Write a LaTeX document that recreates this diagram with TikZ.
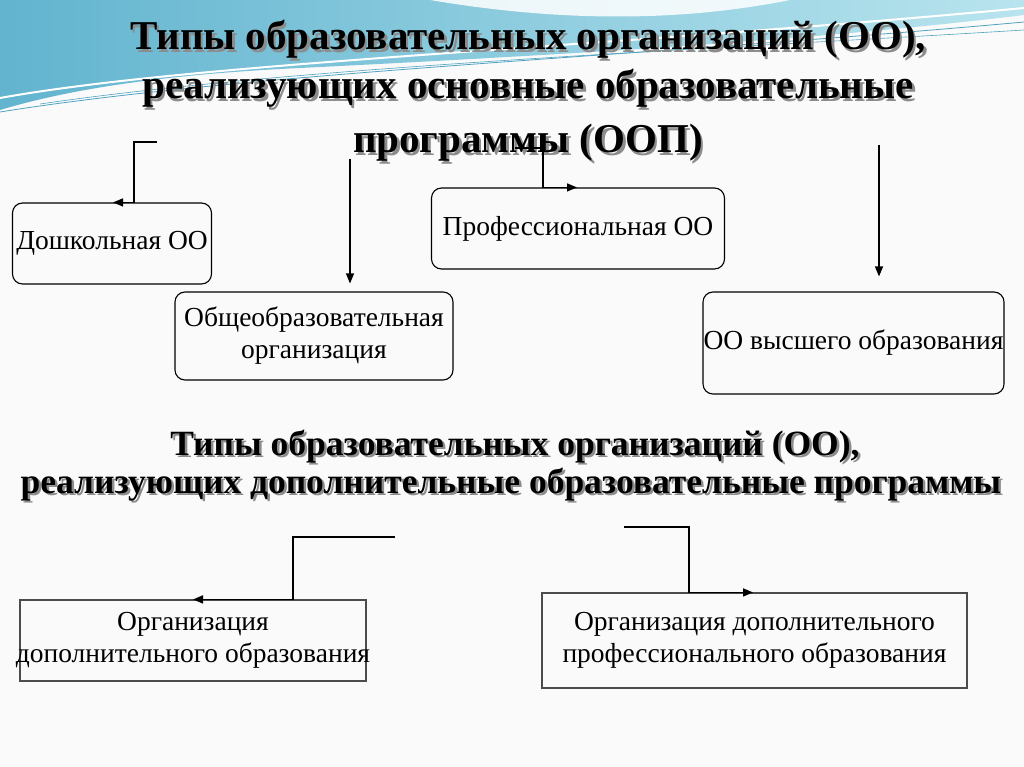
\documentclass[tikz,border=0pt]{standalone}
\usepackage{fontspec}
\setmainfont{Liberation Serif}
\usetikzlibrary{arrows.meta}
\definecolor{swA}{HTML}{62B4CF}
\definecolor{swB}{HTML}{B8E4EE}
\definecolor{swL}{HTML}{4FA3C0}
\definecolor{shd}{HTML}{8C8C8C}
\newcommand\shtx[1]{\makebox[0pt][l]{\kern2.5pt\raisebox{-2.5pt}{\color{shd}#1}}#1}
\begin{document}
\begin{tikzpicture}[x=1pt,y=-1pt,
  box/.style={draw, line width=1.1pt, rounded corners=10pt, align=center,
    font=\fontsize{27.5}{32}\selectfont, inner sep=0pt},
  sqbox/.style={draw=black!70, line width=1.1pt, align=center,
    font=\fontsize{27.5}{32}\selectfont, inner sep=0pt},
  arr/.style={line width=1.3pt, -{Triangle[length=10pt,width=8pt]}},
  barr/.style={line width=1.7pt, -{Triangle[length=10pt,width=8pt]}},
  ttl/.style={font=\fontsize{41}{48}\selectfont\bfseries, anchor=base, inner sep=0pt},
  ttlb/.style={font=\fontsize{35.5}{40}\selectfont\bfseries, anchor=base, inner sep=0pt}]
\useasboundingbox (0,0) rectangle (1024,767);
\fill[white!98!black] (0,0) rectangle (1024,767);
% decorative swoosh
\shade[left color=swA, right color=swB]
  (0,0) -- (1024,0) -- (1024,15) .. controls (820,40) and (560,55) .. (300,68)
  .. controls (150,75) and (60,92) .. (0,110) -- cycle;
\fill[white, opacity=0.85] (430,0) .. controls (560,22) and (680,22) .. (790,0) -- cycle;
\draw[white, line width=2pt] (0,98) .. controls (200,62) and (600,48) .. (1024,8);
\draw[swL, line width=0.8pt] (0,112) .. controls (250,72) and (650,56) .. (1024,22);
\draw[swL, line width=0.6pt] (40,104) .. controls (300,66) and (700,50) .. (1024,30);
% main title
\node[ttl] (t1) at (528,50) {\shtx{Типы образовательных организаций (ОО),}};
\node[ttl] (t2) at (528,99) {\shtx{реализующих основные образовательные}};
\node[ttl] (t3) at (528,153) {\shtx{программы (ООП)}};
% second title
\node[ttlb] (u1) at (515,455) {\shtx{Типы образовательных организаций (ОО),}};
\node[ttlb] (u2) at (511,493) {\shtx{реализующих дополнительные образовательные программы}};
% boxes
\node[box, minimum width=199pt, minimum height=81pt] (dosh) at (112,243.5) {Дошкольная ОО};
\node[box, minimum width=278pt, minimum height=88pt] (obsh) at (314,336)
  {Общеобразовательная\\организация};
\node[box, minimum width=293pt, minimum height=81pt] (prof) at (578,228.5) {Профессиональная ОО};
\node[box, minimum width=301pt, minimum height=102pt] (vys) at (853.5,343)
  {\makebox[0pt]{ОО высшего образования}};
\node[sqbox, minimum width=346pt, minimum height=81pt] (dop) at (193,640.5)
  {\makebox[0pt]{Организация}\\\makebox[0pt]{дополнительного образования}};
\node[sqbox, minimum width=425pt, minimum height=95pt] (dpo) at (754.5,640.5)
  {\makebox[0pt]{Организация дополнительного}\\\makebox[0pt]{профессионального образования}};
% connectors
\coordinate (d0) at (157,142); \coordinate (d1) at (134,142);
\draw[arr] (d0) -- (d1) -- (d1 |- dosh.north) -- ++(-21,0);
\coordinate (o0) at (350,159);
\draw[arr] (o0) -- ([yshift=8pt]o0 |- obsh.north);
\coordinate (p0) at (515,148); \coordinate (p1) at (543,148);
\draw[arr] (p0) -- (p1) -- (p1 |- prof.north) -- ++(34,0);
\coordinate (v0) at (879,145);
\draw[arr] (v0) -- ([yshift=15pt]v0 |- vys.north);
\coordinate (b0) at (395,537); \coordinate (b1) at (293,537);
\draw[barr] (b0) -- (b1) -- (b1 |- dop.north) -- ++(-100,0);
\coordinate (c0) at (624,527); \coordinate (c1) at (689,527);
\draw[barr] (c0) -- (c1) -- (c1 |- dpo.north) -- ++(64,0);
\end{tikzpicture}
\end{document}
